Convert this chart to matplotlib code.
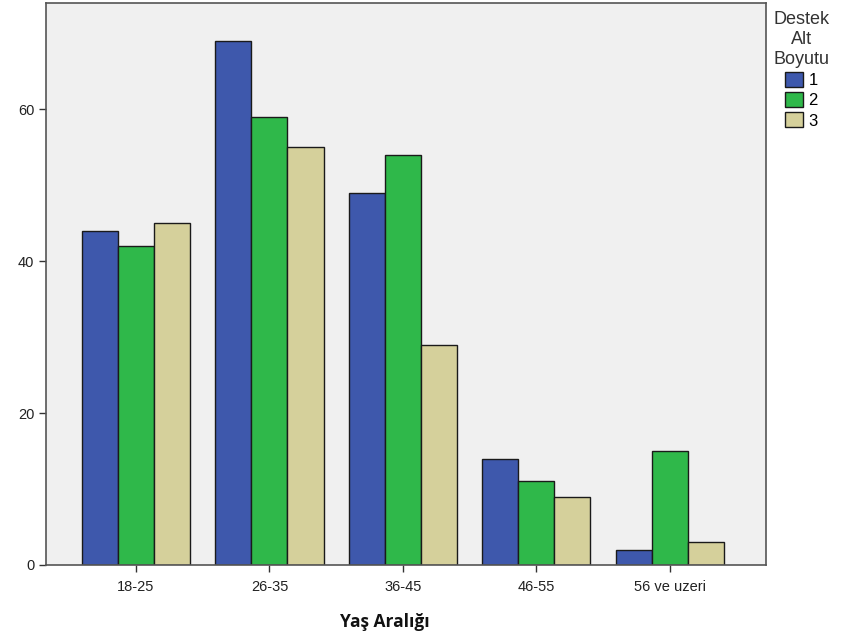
import matplotlib
matplotlib.use("Agg")
import matplotlib.pyplot as plt
import numpy as np

categories = ["18-25", "26-35", "36-45", "46-55", "56 ve uzeri"]
series_names = ["1", "2", "3"]
s1 = [44, 69, 49, 14, 2]
s2 = [42, 59, 54, 11, 15]
s3 = [45, 55, 29, 9, 3]
colors = ["#3e58ac", "#2fb84a", "#d5d09b"]

plt.rcParams['font.family'] = ['Liberation Sans', 'DejaVu Sans']

fig = plt.figure(figsize=(8.49, 6.41), dpi=100)
ax = fig.add_axes([46/849, 76/641, 720/849, 562/641])
ax.set_facecolor("#f0f0f0")

x = np.arange(len(categories))
w = 0.27
for i, (vals, c, n) in enumerate(zip([s1, s2, s3], colors, series_names)):
    ax.bar(x + (i - 1) * w, vals, width=w, color=c, edgecolor="#1a1a1a", linewidth=1.0, label=n)

ax.set_xlim(-0.674, 4.72)
ax.set_ylim(0, 74)
ax.set_yticks([0, 20, 40, 60])
ax.set_xticks(x)
ax.set_xticklabels(categories)
ax.tick_params(axis='both', direction='out', length=5, width=1, color="#333333", labelsize=10.5, labelcolor="#222222")
ax.tick_params(axis='x', pad=6)
for sp in ax.spines.values():
    sp.set_color("#555555")
    sp.set_linewidth(1.2)

fig.text(385/849, 1 - 622/641, "Yaş Aralığı", fontsize=12.5, fontweight='bold',
         family=['Open Sans', 'DejaVu Sans'], ha='center', va='center', color="#111111")

leg = fig.legend(title="Destek\nAlt\nBoyutu", loc='upper left', bbox_to_anchor=(770/849, 1 - 8/641),
                 frameon=False, fontsize=12, title_fontsize=13, handlelength=1.1, handleheight=1.0,
                 handletextpad=0.3, labelspacing=0.25, borderaxespad=0, borderpad=0.2)
leg.get_title().set_multialignment('center')
leg.get_title().set_color("#333333")
for h in leg.legend_handles:
    h.set_edgecolor("#1a1a1a")

fig.savefig("out.png", dpi=100, facecolor="white")
